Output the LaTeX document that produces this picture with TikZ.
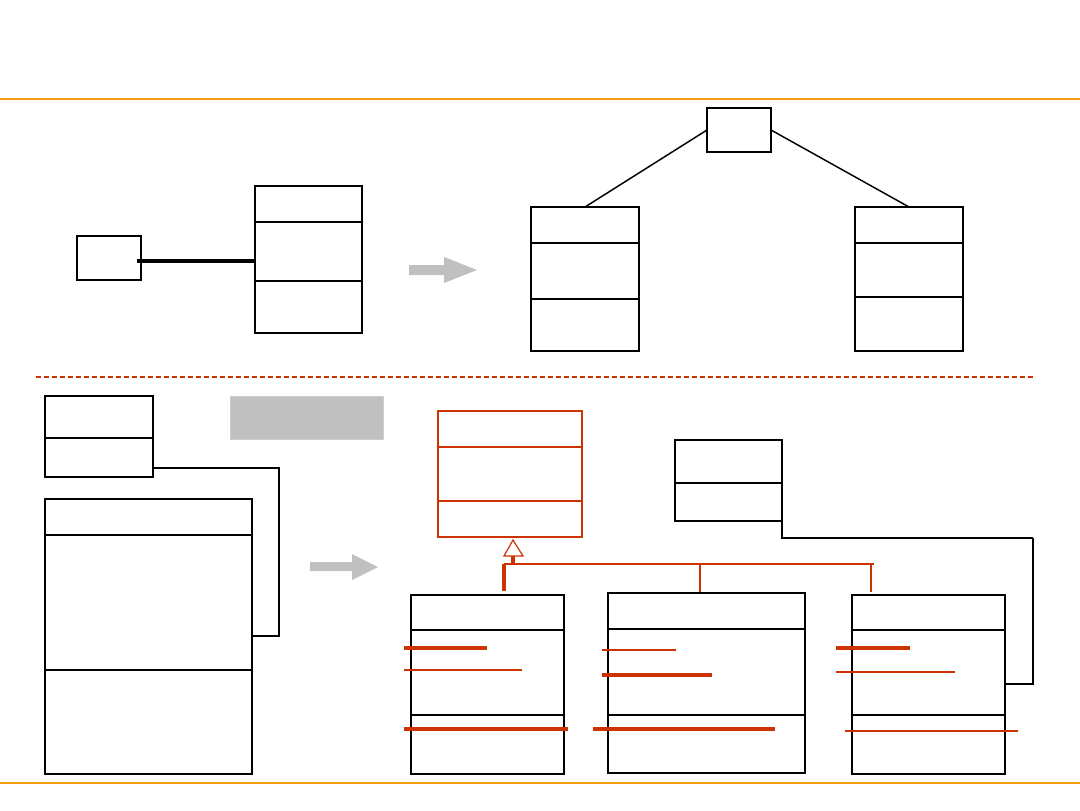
\documentclass[tikz,border=0pt]{standalone}
\usetikzlibrary{fit}
\definecolor{orng}{RGB}{245,158,11}
\definecolor{umlred}{RGB}{204,51,0}
\definecolor{arrgray}{RGB}{192,192,192}
\begin{document}
\begin{tikzpicture}[x=0.75pt,y=-0.75pt,
  boxthick/.style={draw=black,line width=2pt,inner sep=0pt,outer sep=0pt,fill=white},
  boxthin/.style={draw=black,line width=1.4pt,inner sep=0pt,outer sep=0pt,fill=white},
  boxred/.style={draw=umlred,line width=1.1pt,inner sep=0pt,outer sep=0pt,fill=white},
  divthick/.style={line width=1.7pt},
  divthin/.style={line width=1.2pt},
  conn/.style={draw=black,line width=1.1pt},
  redthick/.style={draw=umlred,line width=2.4pt},
  redthin/.style={draw=umlred,line width=1.1pt},
  bigarrow/.style={fill=arrgray,draw=none}]
\useasboundingbox (0,0) rectangle (1080,810);
% orange rules
\draw[orng,line width=1.8pt] (0,99) -- (1080,99);
\draw[orng,line width=1.8pt] (0,783) -- (1080,783);
% dashed separator
\draw[umlred,line width=1.1pt,dash pattern=on 4pt off 2pt] (36,377) -- (1035,377);

% ---------- top left ----------
\node[boxthin,fit={(77,236)(141,280)}] (s1) {};
\node[boxthick,fit={(255,186)(362,333)}] (c1) {};
\draw[divthin] (c1.west |- 0,222) -- (c1.east |- 0,222);
\draw[divthin] (c1.west |- 0,281) -- (c1.east |- 0,281);
\draw[line width=2.6pt] ([xshift=-3pt]s1.east |- 0,261) -- (c1.west |- 0,261);

% top arrow
\path[bigarrow] (409,265) -- (444,265) -- (444,257) -- (477,270) -- (444,283) -- (444,275) -- (409,275) -- cycle;

% ---------- top right ----------
\node[boxthin,fit={(707,108)(771,152)}] (s2) {};
\node[boxthick,fit={(531,207)(639,351)}] (c2) {};
\draw[divthick] (c2.west |- 0,243) -- (c2.east |- 0,243);
\draw[divthin] (c2.west |- 0,299) -- (c2.east |- 0,299);
\node[boxthick,fit={(855,207)(963,351)}] (c3) {};
\draw[divthick] (c3.west |- 0,243) -- (c3.east |- 0,243);
\draw[divthick] (c3.west |- 0,297) -- (c3.east |- 0,297);
\draw[conn] (s2.west |- 0,130) -- (c2.north);
\draw[conn] (s2.east |- 0,130) -- (c3.north);

% ---------- bottom left ----------
\node[boxthick,fit={(45,396)(153,477)}] (s3) {};
\draw[divthin] (s3.west |- 0,438) -- (s3.east |- 0,438);
\node[boxthick,fit={(45,499)(252,774)}] (c4) {};
\draw[divthin] (c4.west |- 0,535) -- (c4.east |- 0,535);
\draw[divthin] (c4.west |- 0,670) -- (c4.east |- 0,670);
\coordinate (k1) at (279,468);
\draw[conn,line width=1.4pt] (s3.east |- k1) -- (k1) -- (k1 |- 0,636) -- (c4.east |- 0,636);
\node[fill=arrgray,draw=arrgray!80!white,line width=0.5pt,inner sep=0pt,fit={(230,396)(383,439)}] (g1) {};

% bottom arrow
\path[bigarrow] (310,562) -- (352,562) -- (352,554) -- (378,567) -- (352,580) -- (352,571) -- (310,571) -- cycle;

% ---------- bottom right ----------
\node[boxred,fit={(438,411)(582,537)}] (p) {};
\draw[redthin] (p.west |- 0,447) -- (p.east |- 0,447);
\draw[redthin] (p.west |- 0,501) -- (p.east |- 0,501);

\node[boxthin,fit={(675,440)(782,521)}] (s4) {};
\draw[divthin] (s4.west |- 0,483) -- (s4.east |- 0,483);

\node[boxthin,fit={(411,595)(564,774)}] (ca) {};
\draw[divthin] (ca.west |- 0,630) -- (ca.east |- 0,630);
\draw[divthin] (ca.west |- 0,715) -- (ca.east |- 0,715);
\node[boxthin,fit={(608,593)(805,773)}] (cb) {};
\draw[divthin] (cb.west |- 0,629) -- (cb.east |- 0,629);
\draw[divthin] (cb.west |- 0,715) -- (cb.east |- 0,715);
\node[boxthin,fit={(852,595)(1005,774)}] (cc) {};
\draw[divthin] (cc.west |- 0,630) -- (cc.east |- 0,630);
\draw[divthin] (cc.west |- 0,715) -- (cc.east |- 0,715);

% generalization
\coordinate (tip) at (513,540);
\draw[umlred,line width=0.9pt,fill=white] (tip) -- (523,556) -- (504,556) -- cycle;
\coordinate (bus) at (513,564);
\draw[redthick] (513,556) -- (bus);
\draw[redthin] (504,564) -- (874,564);
\draw[redthick] (504,564) -- (504,591);
\draw[redthin] (700,564) -- (700,592);
\draw[redthin] (871,564) -- (871,592);

% association
\coordinate (k2) at (s4.east |- 0,538);
\coordinate (k3) at (1033,538);
\draw[line width=1.4pt] (s4.south east) -- (k2) -- (k3);
\draw[line width=2pt] (k3) -- (k3 |- 0,684) -- (cc.east |- 0,684);

% strike lines
\draw[redthick] (404,648) -- (487,648);
\draw[redthin] (404,670) -- (522,670);
\draw[redthick] (404,729) -- (568,729);
\draw[redthin] (602,650) -- (676,650);
\draw[redthick] (602,675) -- (712,675);
\draw[redthick] (593,729) -- (775,729);
\draw[redthick] (836,648) -- (910,648);
\draw[redthin] (836,672) -- (955,672);
\draw[redthin] (845,731) -- (1018,731);
\end{tikzpicture}
\end{document}
